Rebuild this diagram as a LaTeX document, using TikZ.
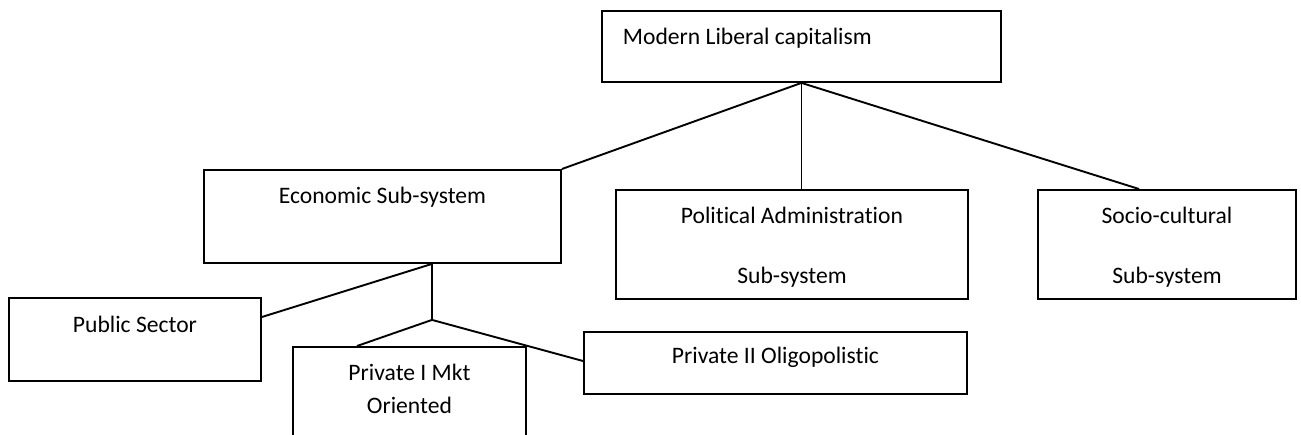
\documentclass[tikz,border=0pt]{standalone}
\usepackage{fontspec}
\setmainfont{Carlito}[Ligatures=NoCommon]
\usetikzlibrary{positioning}
\begin{document}
\begin{tikzpicture}[x=0.5pt,y=-0.5pt,line width=0.95pt,font=\fontsize{11.8}{14}\selectfont]
    \tikzstyle{box}=[draw,rectangle,inner sep=0,anchor=north west,align=center,text height=17pt]
    \tikzstyle{sub box}=[box,minimum height=54.5pt,text height=47pt,text depth=7.5pt]
    \useasboundingbox (0,0) rectangle (1301,434);

    \node(0)[box,minimum width=199.5pt,minimum height=35.5pt,inner xsep=10.5pt,text width=178.5pt,align=flush left,text depth=18.5pt] at (601,10) {Modern Liberal capitalism};

    \node(1)[box,minimum width=178.5pt,minimum height=46.5pt,text depth=29.5pt] at (203,169) {Economic Sub-system};
    \node(2)[sub box,minimum width=176pt] at (615,189) {Political Administration\\[16pt]Sub-system};
    \node(3)[sub box,minimum width=129pt] at (1037,189) {Socio-cultural\\[16pt]Sub-system};

    \node(11)[box,minimum width=126pt,minimum height=41.5pt,text height=17.5pt,text depth=24pt] at (8,297) {Public Sector};
    \node(12)[box,minimum width=116.5pt,minimum height=57pt,text height=33.5pt,text depth=23.5pt] at (292,346) {Private I Mkt\\[2.5pt]Oriented};
    \node(13)[box,minimum width=191.5pt,minimum height=31pt,text height=16pt,text depth=15pt] at (583,331) {Private II Oligopolistic};

    \coordinate (1b) at ([xshift=114.5pt]1.south west);
    \coordinate[below=28pt of 1b] (4);

    \draw (0.south) -- (1.north east);
    \draw (0.south) -- (0.south |- 2.north);
    \draw (0.south) -- ([xshift=51pt]3.north west);
    \draw (1b) -- ([yshift=-10pt]11.north east);
    \draw (1b) -- (4);
    \draw (4) -- ([xshift=32.5pt]12.north west);
    \draw (4) -- ([yshift=-15pt]13.north west);
\end{tikzpicture}
\end{document}
